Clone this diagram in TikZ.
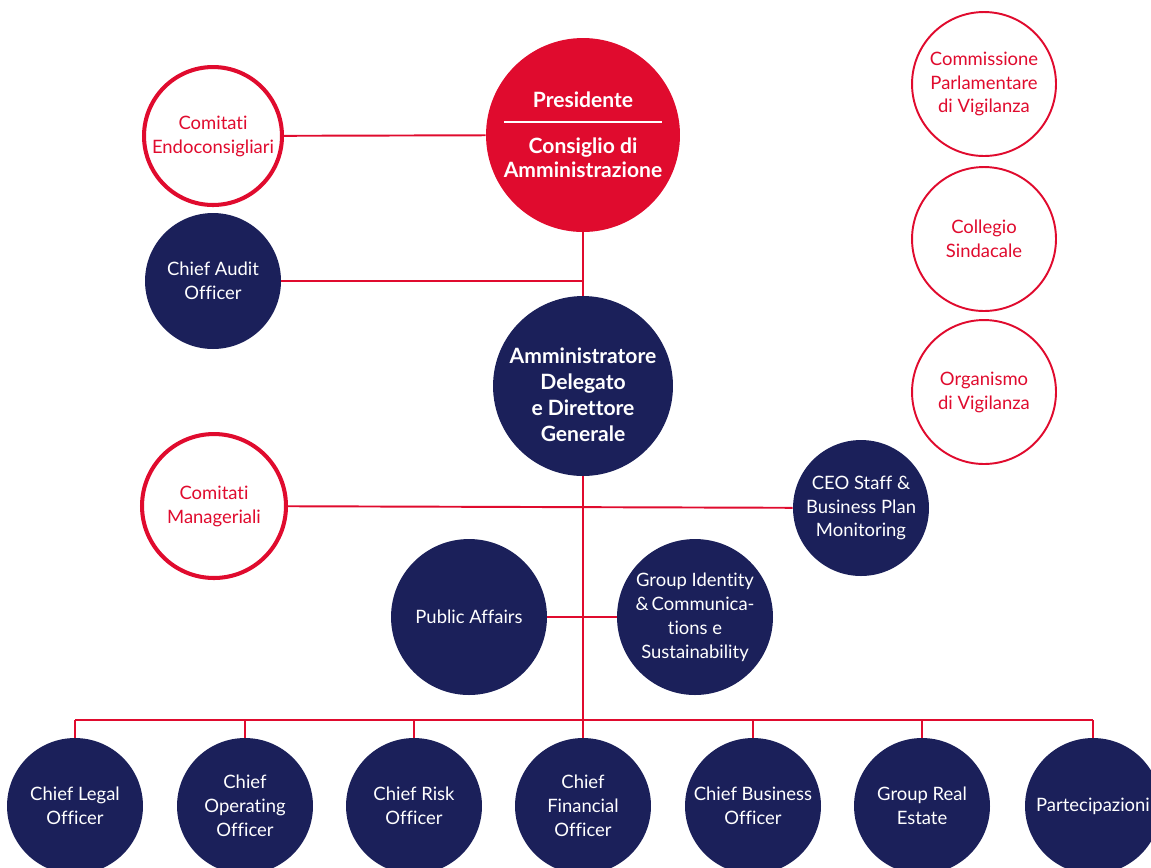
\documentclass[tikz,border=0pt]{standalone}
\usepackage{fontspec}
\setmainfont[Ligatures=NoCommon]{Lato}
\definecolor{raired}{RGB}{224,11,46}
\definecolor{rainavy}{RGB}{27,32,90}
\tikzset{
  navycirc/.style={circle, fill=rainavy, text=white, align=center, inner sep=0pt, font=\fontsize{10.5}{13.6}\selectfont},
  redring/.style={circle, draw=raired, fill=white, text=raired, align=center, inner sep=0pt, font=\fontsize{10.5}{13.6}\selectfont},
  link/.style={draw=raired, line width=1.1pt}
}
\begin{document}
\begin{tikzpicture}[x=0.02cm,y=-0.02cm]
\useasboundingbox (0,0) rectangle (1151,867);

% Bus for the bottom row
\coordinate (bus) at (583,720);

% Top: governing body
\node (pres) [circle, fill=raired, text=white, align=center, inner sep=0pt, minimum size=3.88cm,
  font=\fontsize{12}{13.6}\bfseries\selectfont] at (583,135)
  {Presidente\\[-2pt] {\color{white}\rule[3pt]{90pt}{1.1pt}}\\[1pt] Consiglio di\\Amministrazione};
\node (endo) [redring, line width=2.3pt, minimum size=2.76cm] at (213,136) {Comitati\\Endoconsigliari};
\node (audit) [navycirc, minimum size=2.72cm] at (213,281) {Chief Audit\\Officer};

% CEO
\node (ad) [navycirc, minimum size=3.6cm] at (583,386) {};
\node (ad-txt) [text=white, align=center, inner sep=0pt, font=\fontsize{12}{14.8}\bfseries\selectfont]
  at ([yshift=-0.18cm]ad.center) {Amministratore\\Delegato\\e Direttore\\Generale};
\node (mgr) [redring, line width=2.3pt, minimum size=2.88cm] at (214,506) {Comitati\\Manageriali};
\node (ceo) [navycirc, minimum size=2.72cm] at (861,508) {CEO Staff \&\\Business Plan\\Monitoring};
\node (pub) [navycirc, minimum size=3.12cm] at (469,617) {Public Affairs};
\node (grp) [navycirc, minimum size=3.12cm] at (695,617) {Group Identity\\\&\,Communica-\\tions e\\Sustainability};

% Control bodies
\node (comm) [redring, line width=1.1pt, minimum size=2.88cm] at (984,84) {Commissione\\Parlamentare\\di Vigilanza};
\node (coll) [redring, line width=1.1pt, minimum size=2.88cm] at (984,239) {Collegio\\Sindacale};
\node (odv) [redring, line width=1.1pt, minimum size=2.88cm] at (984,392) {Organismo\\di Vigilanza};

% Bottom row
\foreach \name/\x/\lab in {cleg/75/{Chief Legal\\Officer}, coo/245/{Chief\\Operating\\Officer},
  cro/414/{Chief Risk\\Officer}, cfo/583/{Chief\\Financial\\Officer},
  cbo/753/{Chief Business\\Officer}, gre/922/{Group Real\\Estate}, part/1093/{Partecipazioni}}
  \node (\name) [navycirc, minimum size=2.72cm] at (\x,806) {\lab};

% Links
\draw [link] (endo) -- (pres);
\draw [link] (pres) -- (ad);
\draw [link] (audit) -- (audit -| pres);
\draw [link] (ad) -- (bus);
\draw [link] (mgr) -- (ceo);
\draw [link] (pub) -- (grp);
\draw [link] (cleg |- bus) -- (part |- bus);
\foreach \name in {cleg,coo,cro,cfo,cbo,gre,part}
  \draw [link] (\name |- bus) -- (\name);
\end{tikzpicture}
\end{document}
